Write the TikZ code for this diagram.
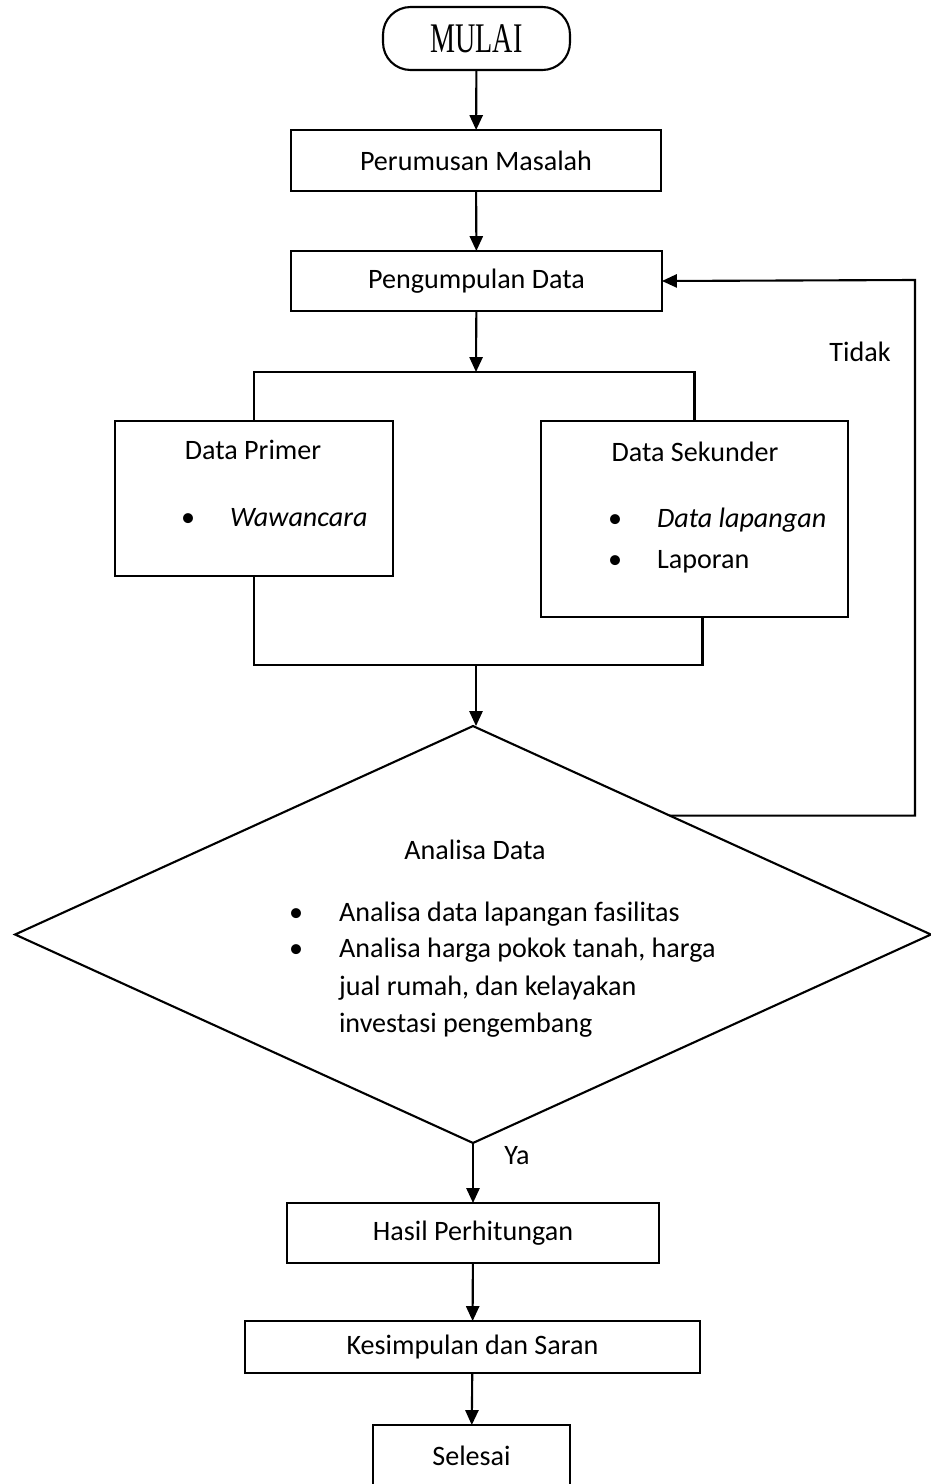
\documentclass[tikz,border=0pt]{standalone}
\usepackage{fontspec}
\setmainfont{Carlito}
\newfontfamily\timesfont{Liberation Serif}
\usetikzlibrary{arrows.meta, shapes.geometric, calc}

\begin{document}
\begin{tikzpicture}[x=0.02cm, y=-0.02cm, >={Triangle[length=8.5pt, width=7.5pt]}, line width=1.2pt, font=\fontsize{16}{19}\selectfont]
        \tikzstyle{box}=[draw=black, rectangle, inner sep=0pt, outer sep=0pt]
        \tikzstyle{term}=[box, rounded corners=0.55cm]
        \tikzstyle{label}=[inner sep=0pt]

        \useasboundingbox (0,0) rectangle (930,1484);

        \node[term, minimum width=3.74cm, minimum height=1.26cm] (mulai)   at (476.5,38.5) {\timesfont\scalebox{1}[1.5]{MULAI}};
        \node[box, minimum width=7.4cm,  minimum height=1.22cm]  (rumus)   at (476,160.5)  {Perumusan Masalah};
        \node[box, minimum width=7.42cm, minimum height=1.2cm]   (kumpul)  at (476.5,281)  {Pengumpulan Data};
        \node[box, minimum width=5.56cm, minimum height=3.1cm]   (primer)  at (254,498.5)  {};
        \node[box, minimum width=6.14cm, minimum height=3.92cm]  (sekunder) at (694.5,519) {};
        \node[diamond, draw=black, inner sep=0pt, outer sep=0pt, minimum width=18.32cm, minimum height=8.34cm] (analisa) at (473,934.5) {};
        \node[box, minimum width=7.44cm, minimum height=1.2cm]   (hasil)   at (473,1233)   {Hasil Perhitungan};
        \node[box, minimum width=9.1cm,  minimum height=1.04cm]  (simpul)  at (472.5,1347) {Kesimpulan dan Saran};
        \node[box, minimum width=3.94cm, minimum height=1.24cm]  (selesai) at (471.5,1456) {Selesai};

        % isi kotak data
        \node[label, anchor=mid] (judulprimer) at (253,455) {Data Primer};
        \node[label, anchor=mid] (b1) at (188,522) {\textbullet};
        \node[label, anchor=mid west] (wawancara) at (229,522) {\itshape Wawancara};
        \node[label, anchor=mid] (judulsekunder) at (695,457) {Data Sekunder};
        \node[label, anchor=mid] (b2) at (615,523) {\textbullet};
        \node[label, anchor=mid west] (lapangan) at (656,523) {\itshape Data lapangan};
        \node[label, anchor=mid] (b3) at (615,564) {\textbullet};
        \node[label, anchor=mid west] (laporan) at (656,564) {Laporan};

        % isi belah ketupat
        \node[label, anchor=mid] (judulanalisa) at (475,855) {Analisa Data};
        \node[label, anchor=mid] (b4) at (296,917) {\textbullet};
        \node[label, anchor=mid west] (baris1) at (338,917) {Analisa data lapangan fasilitas};
        \node[label, anchor=mid] (b5) at (296,953) {\textbullet};
        \node[label, anchor=mid west] (baris2) at (338,953) {Analisa harga pokok tanah, harga};
        \node[label, anchor=mid west] (baris3) at (338,991) {jual rumah, dan kelayakan};
        \node[label, anchor=mid west] (baris4) at (338,1028) {investasi pengembang};

        \node[label, anchor=mid] (tidak) at (860,357) {Tidak};
        \node[label, anchor=mid] (ya) at (517,1160) {Ya};

        \coordinate (bagi) at (476,372);
        \coordinate (gabung) at (476,665);
        \coordinate (balik) at ($(analisa.north)!0.43!(analisa.east)$);
        \coordinate (pojok) at (915,280);

        \draw[->] (mulai) -- (rumus);
        \draw[->] (rumus) -- (kumpul);
        \draw[->] (kumpul) -- (bagi);
        \draw (primer.north) |- (bagi) -| (sekunder.north);
        \draw (primer.south) |- (gabung);
        \draw ($(sekunder.south)+(8,0)$) |- (gabung);
        \draw[->] (gabung) -- (gabung |- analisa.north);
        \draw[->] (balik) -| (pojok) -- (kumpul.east); % kembali bila tidak
        \draw[->] (analisa.south) -- (hasil);
        \draw[->] (hasil) -- (simpul);
        \draw[->] (simpul) -- (selesai);
\end{tikzpicture}
\end{document}
